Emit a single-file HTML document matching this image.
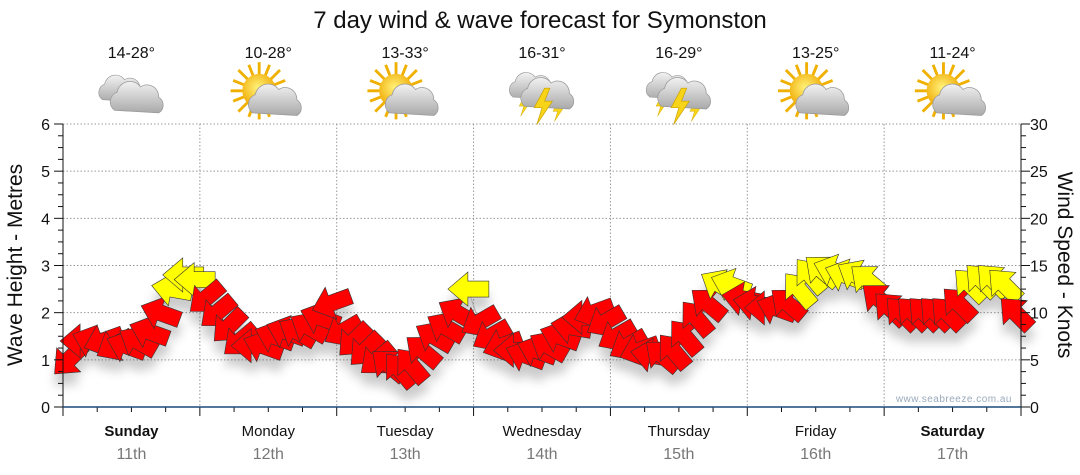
<!DOCTYPE html>
<html><head><meta charset="utf-8"><style>
body{margin:0;background:#fff;width:1080px;height:475px;overflow:hidden}
svg{display:block;font-family:"Liberation Sans",sans-serif}
</style></head><body>
<svg id="chart" width="1080" height="475">
<defs>
<filter id="sh" x="-50%" y="-50%" width="200%" height="200%"><feGaussianBlur stdDeviation="5"/></filter>
<radialGradient id="sunG" cx="0.45" cy="0.4" r="0.6"><stop offset="0" stop-color="#fff27a"/><stop offset="1" stop-color="#f0a800"/></radialGradient>
<linearGradient id="cloudG" x1="0" y1="0" x2="0" y2="1"><stop offset="0" stop-color="#f2f2f2"/><stop offset="1" stop-color="#a9a9a9"/></linearGradient>
<g id="cloud"><path d="M-18,8 a8,8 0 0 1 2,-14 a10,10 0 0 1 18,-4 a9,9 0 0 1 14,8 a7,7 0 0 1 0,12 z" fill="url(#cloudG)" stroke="#999" stroke-width="0.6"/></g>
<g id="sun"><g stroke="#f0b000" stroke-width="2.2">
<line x1="-22" y1="0" x2="22" y2="0"/><line x1="0" y1="-22" x2="0" y2="22"/><line x1="-16" y1="-16" x2="16" y2="16"/><line x1="-16" y1="16" x2="16" y2="-16"/>
<line x1="-20" y1="-8" x2="20" y2="8"/><line x1="-8" y1="-20" x2="8" y2="20"/><line x1="-20" y1="8" x2="20" y2="-8"/><line x1="8" y1="-20" x2="-8" y2="20"/></g>
<circle r="13" fill="url(#sunG)"/></g>
<g id="bolt"><path d="M2,-12 L-6,3 L0,3 L-4,16 L8,-2 L2,-2 L6,-12 z" fill="#f7d417" stroke="#c9a000" stroke-width="0.5"/></g>
</defs>
<text x="540" y="28" text-anchor="middle" font-size="24" fill="#111">7 day wind &amp; wave forecast for Symonston</text>
<g id="grid"></g>
<g id="icons"></g>
<g id="shadows" filter="url(#sh)" opacity="0.3"></g>
<g id="arrows"></g>
<g id="axes"></g>
<text x="1012" y="402" text-anchor="end" font-size="10" fill="#9ab" letter-spacing="0.5">www.seabreeze.com.au</text>
<text transform="translate(22,265) rotate(-90)" text-anchor="middle" font-size="21" fill="#111">Wave Height - Metres</text>
<text transform="translate(1058,265) rotate(90)" text-anchor="middle" font-size="21" fill="#111">Wind Speed - Knots</text>
</svg>
<script>
const days=["Sunday","Monday","Tuesday","Wednesday","Thursday","Friday","Saturday"];
const dates=["11th","12th","13th","14th","15th","16th","17th"];
const temps=["14-28°","10-28°","13-33°","16-31°","16-29°","13-25°","11-24°"];
const icons=["cloudy","partly","partly","storm","storm","partly","partly"];
const leftTicks=[0,1,2,3,4,5,6];
const rightTicks=[0,5,10,15,20,25,30];
const windSpeed=[5,7,7,7,6.5,6.5,7,8,10,12.5,14,13.5,
11.5,10,8.5,7,6.5,6.5,7.5,8,8,8.5,9.5,11,
8,7,6,5,4.5,4,4.5,6,7.5,8.5,10,12.5,
9,7.5,6.5,6,5.5,6,6.5,7.5,8.5,9.5,10,9,
7.5,6.5,6,5.5,5.5,6,7.5,9.5,11,13,13,11.5,
11,10.5,10.5,11,12.5,14,14.5,14.5,14,14,13.5,11.5,
10.5,10,10,10,10,10,11,13,13.5,13.5,13,10];
const windDir=[135,180,200,160,150,200,210,200,200,190,180,180,
140,140,135,140,180,200,200,200,210,210,200,160,
150,135,135,140,220,230,230,220,210,210,210,180,
150,150,160,180,200,200,210,200,190,180,160,150,
150,150,160,190,220,230,230,230,220,210,200,190,
190,180,200,220,230,230,220,200,200,210,220,220,
225,225,225,225,225,225,225,225,225,225,225,225];
const NS="http://www.w3.org/2000/svg";
const X0=63,X1=1021,Y0=407,Y1=124,PER=12;
const dayW=(X1-X0)/7;
const xT=i=>X0+(i+0.5)*dayW/PER;
const yM=m=>Y0-(Y0-Y1)*m/6;
const yK=k=>Y0-(Y0-Y1)*k/30;
function mk(tag,attrs,parent){const e=document.createElementNS(NS,tag);for(const k in attrs)e.setAttribute(k,attrs[k]);parent.appendChild(e);return e;}
const grid=document.getElementById('grid'),axes=document.getElementById('axes');
leftTicks.forEach(t=>{if(t>0){const l=mk('line',{x1:X0,x2:X1,y1:yM(t),y2:yM(t),stroke:'#999','stroke-dasharray':'1.5,2'},grid);

}
const tx=mk('text',{x:50,y:yM(t)+6,'text-anchor':'end','font-size':16,fill:'#111'},axes);tx.textContent=t;

});
rightTicks.forEach(t=>{const tx=mk('text',{x:1030,y:yK(t)+6,'font-size':16,fill:'#111'},axes);tx.textContent=t;

});
for(let q=0;q<=24;q++){const y=Y0-(Y0-Y1)*q/24,L=q%4==0?9:5;
mk('line',{x1:X0-L,x2:X0,y1:y,y2:y,stroke:'#111'},axes);mk('line',{x1:X1,x2:X1+L,y1:y,y2:y,stroke:'#111'},axes);}
for(let d=1;d<7;d++){const x=X0+d*dayW;const l=mk('line',{x1:x,x2:x,y1:Y1,y2:Y0,stroke:'#999','stroke-dasharray':'1.5,2'},grid);

}
for(let q=0;q<=28;q++){const x=X0+q*dayW/4;mk('line',{x1:x,x2:x,y1:Y0,y2:Y0+(q%4==0?9:5),stroke:'#111'},axes);}
mk('line',{x1:X0,x2:X0,y1:Y1,y2:Y0,stroke:'#111'},axes);
mk('line',{x1:X1,x2:X1,y1:Y1,y2:Y0,stroke:'#111'},axes);
mk('line',{x1:X0,x2:X1,y1:Y0,y2:Y0,stroke:'#1a4a7a','stroke-width':1.5},axes);
const ic=document.getElementById('icons');
days.forEach((d,i)=>{const cx=X0+(i+0.5)*dayW;
const t1=mk('text',{x:cx,y:436,'text-anchor':'middle','font-size':15,fill:'#111','font-weight':(i==0||i==6)?'bold':'normal'},axes);t1.textContent=d;


const t2=mk('text',{x:cx,y:459,'text-anchor':'middle','font-size':16,fill:'#777'},axes);t2.textContent=dates[i];


const t3=mk('text',{x:cx,y:58,'text-anchor':'middle','font-size':16,fill:'#111'},ic);t3.textContent=temps[i];


const g=mk('g',{transform:`translate(${cx},96) scale(1.3)`},ic);


if(icons[i]=='cloudy'){mk('use',{href:'#cloud',transform:'translate(-7,-4) scale(0.85)'},g);mk('use',{href:'#cloud',transform:'translate(5,3)'},g);}
else if(icons[i]=='partly'){mk('use',{href:'#sun',transform:'translate(-7,-4)'},g);mk('use',{href:'#cloud',transform:'translate(6,5)'},g);}
else{mk('use',{href:'#bolt',transform:'translate(-14,6) scale(0.6)'},g);mk('use',{href:'#bolt',transform:'translate(12,10) scale(0.6)'},g);mk('use',{href:'#cloud',transform:'translate(-7,-6) scale(0.85)'},g);mk('use',{href:'#cloud',transform:'translate(5,0)'},g);mk('use',{href:'#bolt',transform:'translate(0,6)'},g);}
});
const ar=document.getElementById('arrows'),sh=document.getElementById('shadows');
const pts='20,0 0,-17 0,-8 -21,-8 -21,8 0,8 0,17';
let path='';
windSpeed.forEach((k,i)=>{path+=(i?'L':'M')+xT(i)+','+yK(k);});
mk('path',{d:path,fill:'none',stroke:'#aaa','stroke-width':1},ar);
windSpeed.forEach((k,i)=>{const x=xT(i),y=yK(k),a=windDir[i];
mk('polygon',{points:pts,transform:`translate(${x},${y+12}) rotate(${a})`,fill:'#555'},sh);
const p=mk('polygon',{points:pts,transform:`translate(${x},${y}) rotate(${a})`,fill:k>=12?'#ffff00':'#ff0000',stroke:'#333','stroke-width':0.6},ar);

});
</script>
</body></html>
